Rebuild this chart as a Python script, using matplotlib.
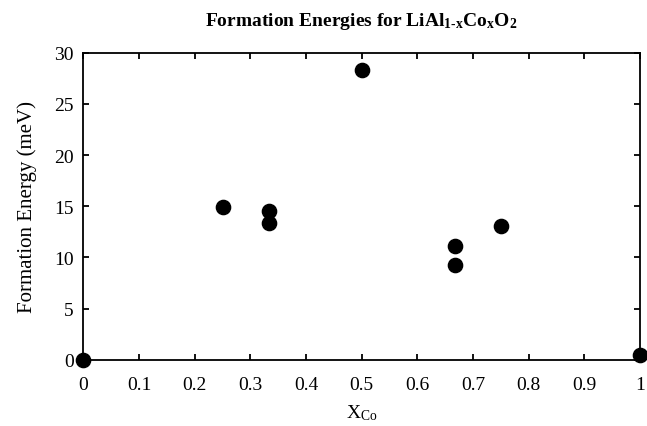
import numpy as np
import matplotlib
matplotlib.use('Agg')
import matplotlib.pyplot as plt

# composition x in LiAl(1-x)Co(x)O2 and formation energy (meV)
x_co = [0.0, 0.25, 0.333, 0.333, 0.5, 0.667, 0.667, 0.75, 1.0]
energy = [0.0, 14.9, 14.5, 13.4, 28.3, 11.1, 9.3, 13.1, 0.5]

x_ticks = [0, 0.1, 0.2, 0.3, 0.4, 0.5, 0.6, 0.7, 0.8, 0.9, 1]
x_tick_labels = ['0', '0.1', '0.2', '0.3', '0.4', '0.5', '0.6', '0.7', '0.8', '0.9', '1']
y_ticks = [0, 5, 10, 15, 20, 25, 30]

plt.rcParams['font.family'] = ['Liberation Serif', 'DejaVu Serif']
plt.rcParams['mathtext.fontset'] = 'custom'
plt.rcParams['mathtext.rm'] = 'Liberation Serif'
plt.rcParams['mathtext.it'] = 'Liberation Serif:italic'
plt.rcParams['mathtext.bf'] = 'Liberation Serif:bold'

fig = plt.figure(figsize=(6.47, 4.27), dpi=100)
ax = fig.add_axes([0.129, 0.155, 0.860, 0.719])

ax.scatter(x_co, energy, s=105, color='black', zorder=5, clip_on=False)

ax.set_xlim(0, 1)
ax.set_ylim(0, 30)
ax.set_xticks(x_ticks)
ax.set_xticklabels(x_tick_labels)
ax.set_yticks(y_ticks)
ax.tick_params(direction='in', top=True, right=True, length=4, width=1.3,
               labelsize=14, labeltop=False, labelright=False)
ax.tick_params(axis='x', pad=12)
ax.tick_params(axis='y', pad=7)
for sp in ax.spines.values():
    sp.set_linewidth(1.3)

ax.set_xlabel(r'X$_{\mathrm{Co}}$', fontsize=14, labelpad=6)
ax.set_ylabel('Formation Energy (meV)', fontsize=15, labelpad=12)
ax.set_title(r'Formation Energies for LiAl$_{\mathbf{1}\text{-}\mathbf{x}}$Co$_{\mathbf{x}}$O$_{\mathbf{2}}$',
             fontsize=14, fontweight='bold', pad=20)

fig.savefig('out.png', dpi=100)
